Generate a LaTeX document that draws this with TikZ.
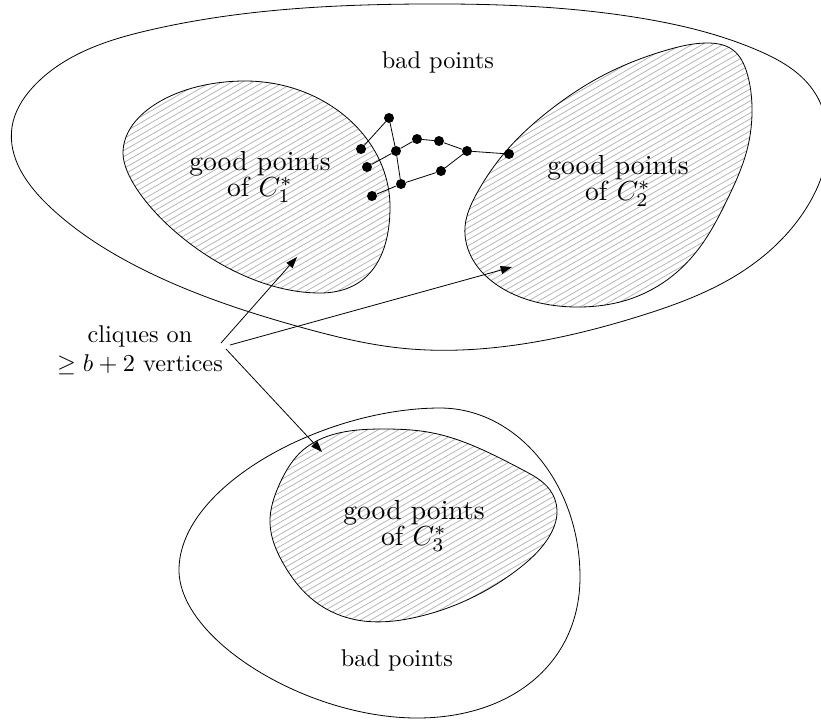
\documentclass[tikz,border=0pt]{standalone}
\usetikzlibrary{arrows.meta,hobby}
\tikzset{
  x=0.75pt, y=-0.75pt,
  outline/.style={line width=0.6pt, black},
  hatchline/.style={line width=0.55pt, black!30},
  dot/.style={circle, fill=black, inner sep=0pt, minimum size=7.5pt},
  edge/.style={line width=0.6pt},
  arr/.style={line width=0.6pt, -{Triangle[length=8.5pt,width=6pt]}},
  goodlbl/.style={scale=2.07, align=center, inner sep=0pt, font=\fontsize{10}{9.4}\selectfont},
  badlbl/.style={scale=1.82, align=center, inner sep=0pt},
  shapeA/.style={insert path={(245,81) .. controls +(-67,0) and +(0,-40) .. (123,153)
      .. controls +(0,45) and +(-97,0) .. (320,293)
      .. controls +(45,0) and +(0,55) .. (390,207)
      .. controls +(0,-69) and +(80,0) .. (245,81) -- cycle}},
  shapeB/.style={insert path={plot[closed hobby] coordinates {(707,43) (667,50) (600,77) (550,110) (507,150) (477,193) (465,227) (473,260) (500,287) (540,303) (580,307) (627,300) (667,280) (700,247) (727,200) (747,150) (752,107) (747,73) (733,50)}}},
  shapeC/.style={insert path={plot[closed hobby] coordinates {(383,429) (323,438) (303,450) (280,483) (270,523) (283,563) (317,603) (357,620) (417,617) (467,600) (517,570) (547,540) (557,510) (550,490) (523,470) (483,450) (433,433)}}},
  outerTop/.style={insert path={plot[closed hobby] coordinates {(12,127) (33,87) (67,60) (150,30) (420,4) (640,18) (757,50) (813,90) (828,140) (807,207) (740,273) (640,316) (500,347) (400,348) (300,327) (140,268) (50,207)}}},
  outerBot/.style={insert path={(440,408) .. controls +(-115,0) and +(0,-85) .. (179,570)
      .. controls +(0,70) and +(-110,0) .. (417,718)
      .. controls +(96,0) and +(0,85) .. (580,577)
      .. controls +(0,-93) and +(77,0) .. (440,408) -- cycle}}
}
\begin{document}
\begin{tikzpicture}
\useasboundingbox (0,0) rectangle (821,719);

% outer regions
\draw[outline][outerTop];
\draw[outline][outerBot];

% hatching
\begin{scope}
  \clip[shapeA] [shapeB] [shapeC];
  \foreach \k in {0,...,210} {
    \draw[hatchline] (0,{\k*6}) -- (821,{\k*6-474});
  }
\end{scope}
\draw[outline][shapeA];
\draw[outline][shapeB];
\draw[outline][shapeC];

% labels
\node[badlbl] (badtop) at (438,62) {bad points};
\node[badlbl] (badbot) at (397,660) {bad points};
\node[goodlbl] (g1) at (260,177) {good points\\of $C_1^*$};
\node[goodlbl] (g2) at (618,181) {good points\\of $C_2^*$};
\node[goodlbl] (g3) at (414,526) {good points\\of $C_3^*$};
\node[badlbl] (cl) at (140,350) {cliques on\\$\geq b+2$ vertices};

% arrows
\coordinate (s1) at (221,343);
\coordinate (s2) at (230,345);
\coordinate (s3) at (226,349);
\coordinate (t1) at (297,257);
\coordinate (t2) at (512,267);
\coordinate (t3) at (322,452);
\draw[arr] (s1) -- (t1);
\draw[arr] (s2) -- (t2);
\draw[arr] (s3) -- (t3);

% graph
\node[dot] (a) at (389,118) {};
\node[dot] (b) at (361,149) {};
\node[dot] (c) at (396,151) {};
\node[dot] (d) at (367,167) {};
\node[dot] (e) at (417,139) {};
\node[dot] (f) at (439,141) {};
\node[dot] (g) at (467,151) {};
\node[dot] (h) at (509,154) {};
\node[dot] (i) at (441,171) {};
\node[dot] (j) at (401,184) {};
\node[dot] (k) at (372,196) {};
\draw[edge] (b) -- (a) -- (c) -- (e) -- (f) -- (g) -- (h);
\draw[edge] (d) -- (c) -- (j) -- (i) -- (g);
\draw[edge] (k) -- (j);
\end{tikzpicture}
\end{document}
